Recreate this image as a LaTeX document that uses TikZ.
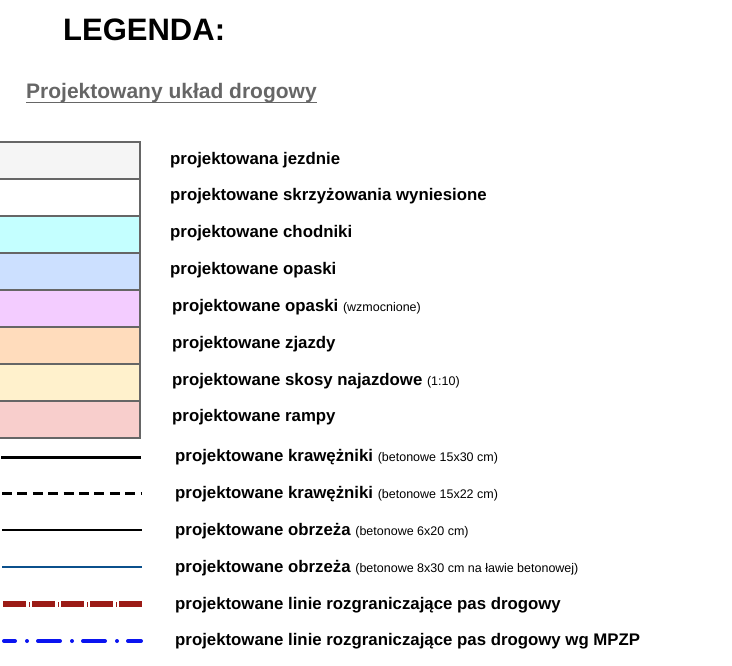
\documentclass[tikz,border=0pt]{standalone}
\usepackage{fontspec}
\setmainfont{Liberation Sans}
\usetikzlibrary{positioning}

\definecolor{jezdnia}{HTML}{F5F5F5}
\definecolor{chodnik}{HTML}{C4FFFF}
\definecolor{opaska}{HTML}{CCE0FF}
\definecolor{opaskaw}{HTML}{F3CCFF}
\definecolor{zjazd}{HTML}{FFDCBC}
\definecolor{skos}{HTML}{FFF1CC}
\definecolor{rampa}{HTML}{F8CECC}
\definecolor{obrzeze}{HTML}{0B508C}
\definecolor{pasred}{HTML}{9B1B16}
\definecolor{mpzp}{HTML}{0A14F0}

\newcommand{\smalltxt}[1]{{\fontsize{12.5}{14}\selectfont\mdseries #1}}

\begin{document}
\begin{tikzpicture}[
    x=1pt, y=-1pt,
    swatch/.style={rectangle, draw=black!60, line width=1.2pt, minimum width=141pt, minimum height=37pt, inner sep=0pt, outer sep=0pt},
    legtext/.style={anchor=base west, inner sep=0pt, font=\fontsize{16.8}{20}\selectfont\bfseries},
    curb/.style={line width=3pt},
    curbd/.style={line width=3pt, dash pattern=on 10pt off 5.4pt},
    edge/.style={line width=2.2pt},
    edgeb/.style={line width=2.4pt, draw=obrzeze},
    pas/.style={line width=6pt, draw=pasred, dash pattern=on 23pt off 6pt},
    pastick/.style={line width=5pt, draw=pasred, dash pattern=on 1.2pt off 27.8pt, dash phase=3pt},
    plan/.style={line width=4pt, draw=mpzp, line cap=round, dash pattern=on 22pt off 12pt on 0pt off 11pt, dash phase=11pt}
]
\useasboundingbox (0,0) rectangle (732,665);

% naglowek
\node[anchor=base west, inner sep=0pt, font=\fontsize{31}{36}\selectfont\bfseries] (title) at (63,40) {LEGENDA:};
\node[anchor=base west, inner sep=0pt, text=black!60, font=\fontsize{21}{25}\selectfont\bfseries] (sub) at (26,98) {Projektowany układ drogowy};
\draw[black!60, line width=1.2pt] ([yshift=-4.5pt]sub.base west) -- ([yshift=-4.5pt]sub.base east);

% powierzchnie
\node[swatch, fill=jezdnia, anchor=north west] (s1) at (-1,142) {};
\node[swatch, fill=white, below=0pt of s1] (s2) {};
\node[swatch, fill=chodnik, below=0pt of s2] (s3) {};
\node[swatch, fill=opaska, below=0pt of s3] (s4) {};
\node[swatch, fill=opaskaw, below=0pt of s4] (s5) {};
\node[swatch, fill=zjazd, below=0pt of s5] (s6) {};
\node[swatch, fill=skos, below=0pt of s6] (s7) {};
\node[swatch, fill=rampa, below=0pt of s7] (s8) {};

\node[legtext] (t1) at (170,164) {projektowana jezdnie};
\node[legtext] (t2) at (170,200) {projektowane skrzyżowania wyniesione};
\node[legtext] (t3) at (170,237) {projektowane chodniki};
\node[legtext] (t4) at (170,274) {projektowane opaski};
\node[legtext] (t5) at (172,311) {projektowane opaski \smalltxt{(wzmocnione)}};
\node[legtext] (t6) at (172,348) {projektowane zjazdy};
\node[legtext] (t7) at (172,385) {projektowane skosy najazdowe \smalltxt{(1:10)}};
\node[legtext] (t8) at (172,421) {projektowane rampy};

% linie
\coordinate (k1a) at (1,457);   \coordinate (k1b) at (141,457);
\coordinate (k2a) at (2,493);   \coordinate (k2b) at (142,493);
\coordinate (o1a) at (2,530);   \coordinate (o1b) at (142,530);
\coordinate (o2a) at (2,567);   \coordinate (o2b) at (142,567);
\coordinate (p1a) at (3,604);   \coordinate (p1b) at (142,604);
\coordinate (p2a) at (4,641);   \coordinate (p2b) at (141,641);

\draw[curb] (k1a) -- (k1b);
\draw[curbd] (k2a) -- (k2b);
\draw[edge] (o1a) -- (o1b);
\draw[edgeb] (o2a) -- (o2b);
\draw[pas] (p1a) -- (p1b);
\draw[pastick] (p1a) -- (p1b);
\draw[plan] (p2a) -- (p2b);

\node[legtext] (t9) at (175,461) {projektowane krawężniki \smalltxt{(betonowe 15x30 cm)}};
\node[legtext] (t10) at (175,498) {projektowane krawężniki \smalltxt{(betonowe 15x22 cm)}};
\node[legtext] (t11) at (175,535) {projektowane obrzeża \smalltxt{(betonowe 6x20 cm)}};
\node[legtext] (t12) at (175,572) {projektowane obrzeża \smalltxt{(betonowe 8x30 cm na ławie betonowej)}};
\node[legtext] (t13) at (175,609) {projektowane linie rozgraniczające pas drogowy};
\node[legtext] (t14) at (175,645) {projektowane linie rozgraniczające pas drogowy wg MPZP};
\end{tikzpicture}
\end{document}
